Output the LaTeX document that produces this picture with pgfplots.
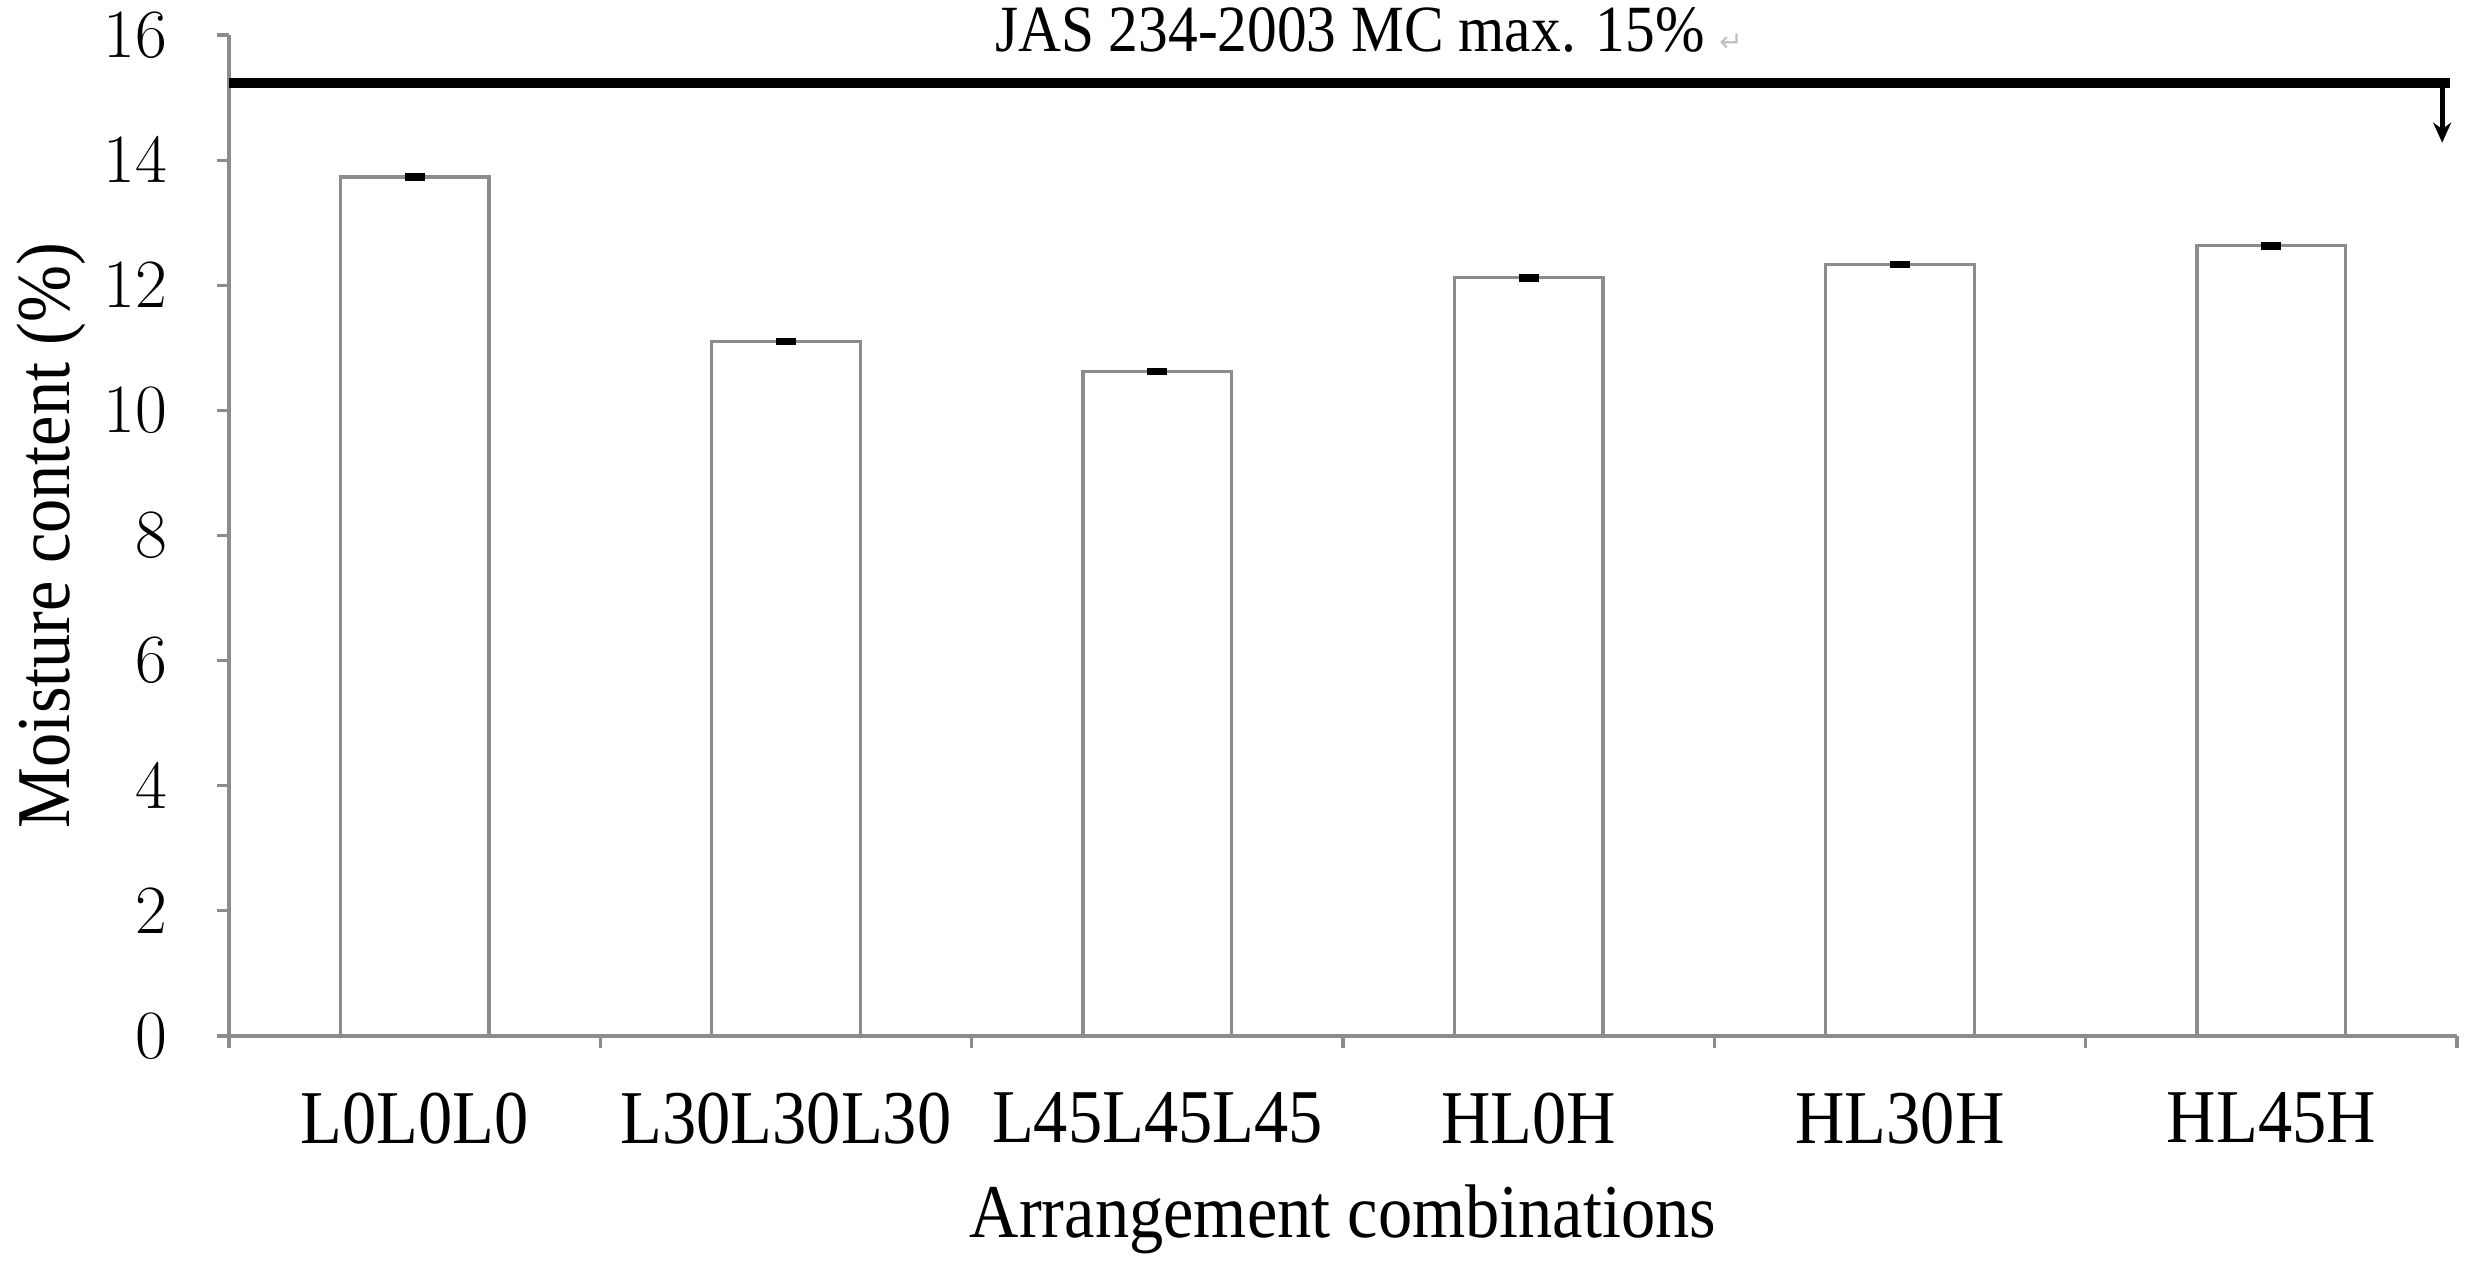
\documentclass[border=0pt]{standalone}
\usepackage{pgfplots}
\pgfplotsset{compat=1.18}
\usepackage{pgfplotstable}
\usepackage{fontspec}
\setmainfont{Liberation Serif}[FakeStretch=0.9]
\newfontfamily\dejavu{DejaVu Sans}
\usetikzlibrary{arrows.meta}
\definecolor{axgray}{HTML}{8C8C8C}
\pgfplotstableread{
x y e
0 13.73 0.02
1 11.10 0.02
2 10.62 0.02
3 12.12 0.02
4 12.33 0.02
5 12.63 0.02
}\mc
\begin{document}
\begin{tikzpicture}
\begin{axis}[
  scale only axis, width=557pt, height=250.25pt,
  at={(0,0)}, anchor=south west,
  xmin=-0.5, xmax=5.5, ymin=0, ymax=16,
  axis x line*=bottom, axis y line*=left,
  axis line style={axgray, line width=0.8pt},
  every tick/.style={axgray, line width=0.8pt},
  tick align=outside, major tick length=3pt,
  ytick={0,2,...,16},
  xtick={-0.5,0.5,1.5,2.5,3.5,4.5,5.5},
  xticklabels={},
  extra x ticks={0,1,2,3,4,5},
  extra x tick labels={L0L0L0,L30L30L30,L45L45L45,HL0H,HL30H,HL45H},
  extra x tick style={major tick length=0pt, xticklabel style={anchor=north, yshift=-13pt}},
  ticklabel style={font=\fontsize{19}{23}\selectfont, black, inner sep=1pt},
  yticklabel style={xshift=-11.3pt},
  xlabel={Arrangement combinations},
  ylabel={Moisture content (\%)},
  every axis x label/.style={at={(axis description cs:0.5,-0.2008)}, anchor=base, inner sep=0pt, font=\fontsize{19}{23}\selectfont},
  every axis y label/.style={at={(axis description cs:-0.0714,0.5)}, rotate=90, anchor=base, inner sep=0pt, font=\fontsize{19}{23}\selectfont},
  clip=false,
]
\addplot[ybar, bar width=0.4, fill=white, draw=axgray, line width=0.8pt,
  error bars/.cd, y dir=both, y explicit,
  error mark=|,
  error bar style={black, line width=1.3pt},
  error mark options={black, line width=1.3pt, mark size=2.5pt}]
  table[x=x, y=y, y error=e]{\mc};
\addplot[black, line width=2.5pt, line cap=butt] coordinates {(-0.5,15.24) (5.48,15.24)};
\addplot[black, line width=1.3pt, -{Stealth[length=5pt,width=4.5pt]}] coordinates {(5.46,15.26) (5.46,14.28)};
\node[anchor=base, inner sep=0pt, font=\fontsize{16.5}{20}\selectfont] at (axis cs:2.57,15.73)
  {JAS 234-2003 MC max. 15\% {\dejavu\color{gray!50}\fontsize{7}{8}\selectfont ↵}};
\end{axis}
\path (-57.25pt,-59.25pt) rectangle (563pt,259pt);
\end{tikzpicture}
\end{document}
